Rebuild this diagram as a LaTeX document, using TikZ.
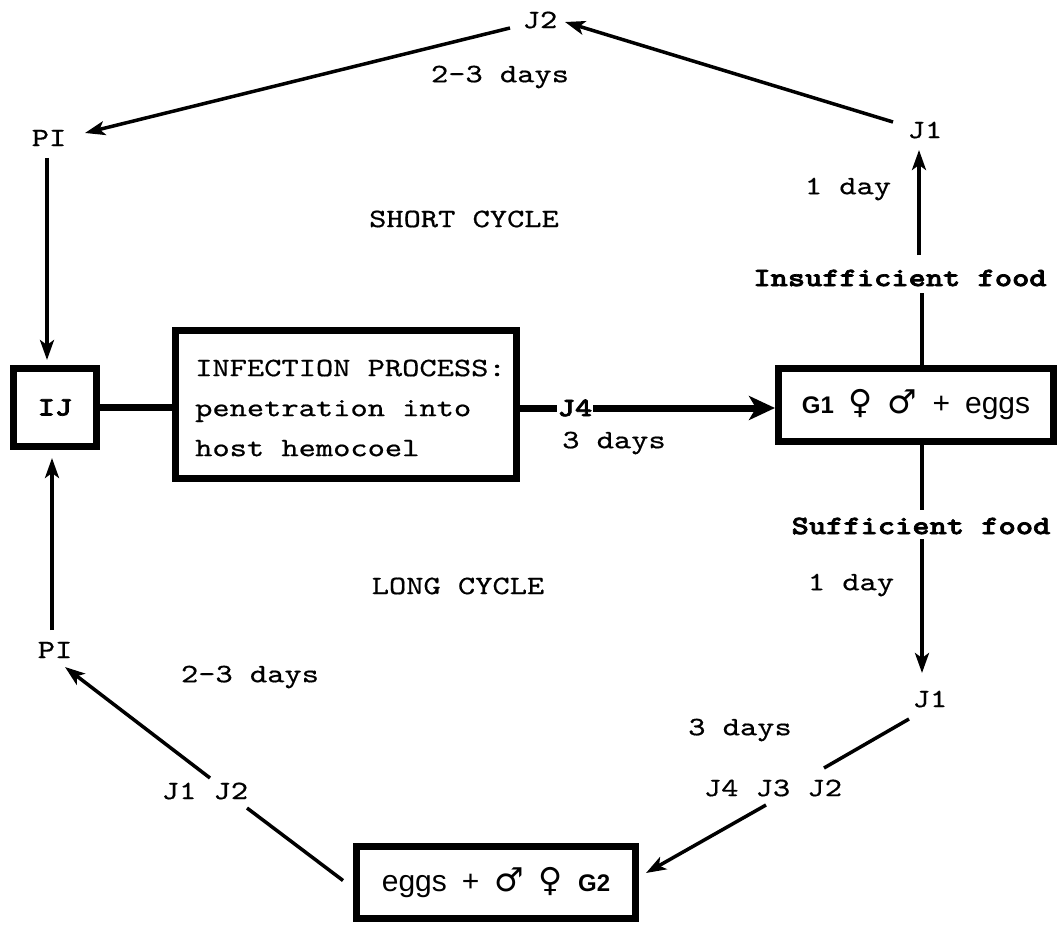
\documentclass[tikz,border=0pt]{standalone}
\usepackage{fontspec}
\setmainfont{lmmono10-regular.otf}[FakeStretch=1.24, FakeBold=0.6, BoldFont=lmmonolt10-bold.otf, BoldFeatures={FakeBold=2.6}]
\newfontfamily\sansf{Liberation Sans}
\newfontfamily\symf{DejaVu Sans}
\usetikzlibrary{arrows.meta,calc}
\begin{document}
\begin{tikzpicture}[x=1pt,y=-1pt,
  lbl/.style={font=\fontsize{26.5}{32}\selectfont, inner sep=0pt},
  blbl/.style={font=\fontsize{26.5}{32}\selectfont\bfseries, inner sep=0pt},
  box/.style={draw, line width=7pt, inner sep=0pt},
  ln/.style={line width=3.5pt},
  arr/.style={line width=3.5pt, -{Stealth[length=20pt,width=14pt,inset=5pt]}},
  fat/.style={line width=7pt},
  fatarr/.style={line width=7pt, -{Stealth[length=26pt,width=24pt,inset=7pt]}}]
\useasboundingbox (0,0) rectangle (1059,925);

% labels
\node[lbl] (J2t) at (540,20) {J2};
\node[lbl] (d23t) at (500,77) {2-3 days};
\node[lbl] (PIt) at (49,138) {PI};
\node[lbl] (J1t) at (925,130) {J1};
\node[lbl] (day1t) at (848,189) {1 day};
\node[lbl] (short) at (464,219) {SHORT CYCLE};
\node[blbl] (insuf) at (900,278) {Insufficient food};
\node[blbl, inner xsep=1pt] (J4) at (575,408) {J4};
\node[lbl] (d3) at (614,443) {3 days};
\node[blbl] (suf) at (921,526) {Sufficient food};
\node[lbl] (day1b) at (851,585) {1 day};
\node[lbl] (long) at (458,586) {LONG CYCLE};
\node[lbl] (J1b) at (930,699) {J1};
\node[lbl] (d3b) at (740,730) {3 days};
\node[lbl] (J432) at (773,788) {J4 J3 J2};
\node[lbl] (J12) at (205,791) {J1 J2};
\node[lbl] (d23b) at (250,677) {2-3 days};
\node[lbl] (PIb) at (55,650) {PI};

% boxes
\node[box, minimum width=83pt, minimum height=78pt, font=\fontsize{26.5}{32}\selectfont\bfseries] (IJ) at (55,407.5) {IJ};
\node[box, minimum width=341pt, minimum height=148pt] (inf) at (346,404.5) {};
\node[lbl, anchor=west, align=left, font=\fontsize{26.5}{40}\selectfont] (inftxt) at (195,408) {INFECTION PROCESS:\\penetration into\\host hemocoel};
\node[box, minimum width=275pt, minimum height=73pt, font=\sansf\fontsize{30}{36}\selectfont] (G1) at (916,405)
  {{\bfseries\fontsize{24}{28}\selectfont G1}\enspace{\symf\fontsize{33}{36}\selectfont ♀}\enspace{\symf\fontsize{33}{36}\selectfont ♂}\enspace+\enspace eggs};
\node[box, minimum width=279pt, minimum height=72pt, font=\sansf\fontsize{30}{36}\selectfont] (G2) at (496,882.5)
  {eggs\enspace+\enspace{\symf\fontsize{33}{36}\selectfont ♂}\enspace{\symf\fontsize{33}{36}\selectfont ♀}\enspace{\bfseries\fontsize{24}{28}\selectfont G2}};

% short cycle
\draw[arr] ($(J1t)+(-32,-8)$) -- ($(J2t)+(25,2)$);
\draw[arr] ($(J2t)+(-30,8)$) -- ($(PIt)+(36,-5)$);
\draw[arr] ($(PIt)+(-2,20)$) -- ($(IJ.north)+(-8,-5)$);
\draw[ln] ($(G1.north)+(6,0)$) -- ($(insuf)+(22,15)$);
\draw[arr] ($(insuf)+(19,-23)$) -- ($(J1t)+(-6,20)$);

% infection
\draw[fat] (IJ.east) -- (IJ.east -| inf.west);
\draw[fat] (inf.east |- J4) -- (J4.west);
\draw[fatarr] (J4.east) -- (J4 -| G1.west);

% long cycle
\draw[ln] ($(G1.south)+(6,0)$) -- ($(suf)+(1,-16)$);
\draw[arr] ($(suf)+(1,13)$) -- ($(J1b)+(-8,-26)$);
\draw[ln] ($(J1b)+(-21,20)$) -- ($(J432)+(51,-20)$);
\draw[arr] ($(J432)+(-7,17)$) -- ($(G2.east)+(7,-9.5)$);
\draw[ln] ($(G2.west)+(-10,-2)$) -- ($(J12)+(42,17)$);
\draw[arr] ($(J12)+(5,-13)$) -- ($(PIb)+(10,17)$);
\draw[arr] ($(PIb)+(-3,-20)$) -- ($(IJ.south)+(-3,8)$);
\end{tikzpicture}
\end{document}
